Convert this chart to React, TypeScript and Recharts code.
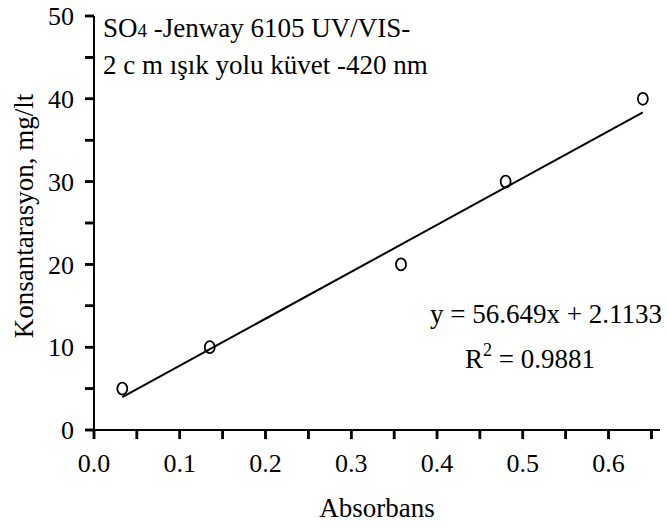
import { ScatterChart, Scatter, XAxis, YAxis, ReferenceLine } from "recharts";

// measured points (absorbans vs konsantrasyon)
const absorbans = [0.033, 0.135, 0.358, 0.48, 0.64];
const konsantrasyon = [5, 10, 20, 30, 40];

// linear trendline endpoints (y = 56.649x + 2.1133)
const trendX = [0.033, 0.64];
const trendY = [3.98, 38.37];

const xTicks = [0, 0.05, 0.1, 0.15, 0.2, 0.25, 0.3, 0.35, 0.4, 0.45, 0.5, 0.55, 0.6, 0.65];
const xLabelTicks = [0, 0.1, 0.2, 0.3, 0.4, 0.5, 0.6];
const yTicks = [0, 5, 10, 15, 20, 25, 30, 35, 40, 45, 50];
const yLabelTicks = [0, 10, 20, 30, 40, 50];

const points = absorbans.map((x, i) => ({ x, y: konsantrasyon[i] }));
const trend = trendX.map((x, i) => ({ x, y: trendY[i] }));

const FONT = "'Liberation Serif', 'Times New Roman', serif";
// tick mark length in data units (~9px on each axis)
const X_TICK_LEN = 1.1;
const Y_TICK_LEN = 0.0105;

function OpenCircle(props: any) {
  const { cx, cy } = props;
  return (
    <ellipse cx={cx} cy={cy} rx={5} ry={6} fill="none" stroke="#000" strokeWidth={1.8} />
  );
}

function XTick(props: any) {
  const { x, y, payload } = props;
  const v = payload.value as number;
  if (!xLabelTicks.some((t) => Math.abs(t - v) < 1e-9)) return <g />;
  return (
    <text x={x} y={y} dy="0.75em" textAnchor="middle" fontSize={26} fontFamily={FONT} fill="#000">
      {v.toFixed(1)}
    </text>
  );
}

function YTick(props: any) {
  const { x, y, payload } = props;
  const v = payload.value as number;
  if (!yLabelTicks.includes(v)) return <g />;
  return (
    <text x={x} y={y} dy="0.35em" textAnchor="end" fontSize={26} fontFamily={FONT} fill="#000">
      {v}
    </text>
  );
}

export default function App() {
  return (
    <div style={{ position: "absolute", left: 0, top: 0, background: "#fff" }}>
      <ScatterChart
        width={668}
        height={526}
        margin={{ top: 16, right: 8, bottom: 0, left: 0 }}
      >
        <XAxis
          type="number"
          dataKey="x"
          domain={[0, 0.66]}
          ticks={xTicks}
          interval={0}
          stroke="#000"
          tickSize={9}
          tickMargin={13}
          height={96}
          axisLine={{ stroke: "#000", strokeWidth: 2 }}
          tickLine={{ stroke: "#000", strokeWidth: 2.5 }}
          tick={<XTick />}
          allowDataOverflow
        />
        <YAxis
          type="number"
          dataKey="y"
          domain={[0, 50]}
          ticks={yTicks}
          interval={0}
          stroke="#000"
          tickSize={9}
          tickMargin={11}
          width={94}
          axisLine={{ stroke: "#000", strokeWidth: 2 }}
          tickLine={{ stroke: "#000", strokeWidth: 2.5 }}
          tick={<YTick />}
          allowDataOverflow
        />
        {xTicks.map((t) => (
          <ReferenceLine
            key={"xt" + t}
            segment={[{ x: t, y: 0 }, { x: t, y: -X_TICK_LEN }]}
            ifOverflow="visible"
            stroke="#000"
            strokeWidth={2.5}
          />
        ))}
        {yTicks.map((t) => (
          <ReferenceLine
            key={"yt" + t}
            segment={[{ x: -Y_TICK_LEN, y: t }, { x: 0, y: t }]}
            ifOverflow="visible"
            stroke="#000"
            strokeWidth={2.5}
          />
        ))}
        <Scatter
          data={trend}
          line={{ stroke: "#000", strokeWidth: 2 }}
          shape={() => <g />}
          isAnimationActive={false}
        />
        <Scatter data={points} shape={OpenCircle} isAnimationActive={false} />
        <text x={103} y={37} fontSize={27} fontFamily={FONT} fill="#000">
          SO<tspan fontSize={19}>4</tspan> -Jenway 6105 UV/VIS-
        </text>
        <text x={103} y={74} fontSize={27} fontFamily={FONT} fill="#000">
          2 c m ışık yolu küvet -420 nm
        </text>
        <text x={662} y={323} fontSize={27} fontFamily={FONT} fill="#000" textAnchor="end">
          y = 56.649x + 2.1133
        </text>
        <text x={465} y={368} fontSize={27} fontFamily={FONT} fill="#000">
          R<tspan fontSize={18} dy={-12}>2</tspan>
          <tspan dy={12}> = 0.9881</tspan>
        </text>
        <text x={377} y={517} fontSize={27} fontFamily={FONT} fill="#000" textAnchor="middle">
          Absorbans
        </text>
        <text
          x={33}
          y={216}
          fontSize={27}
          fontFamily={FONT}
          fill="#000"
          textAnchor="middle"
          transform="rotate(-90 33 216)"
        >
          Konsantarasyon, mg/lt
        </text>
      </ScatterChart>
    </div>
  );
}
